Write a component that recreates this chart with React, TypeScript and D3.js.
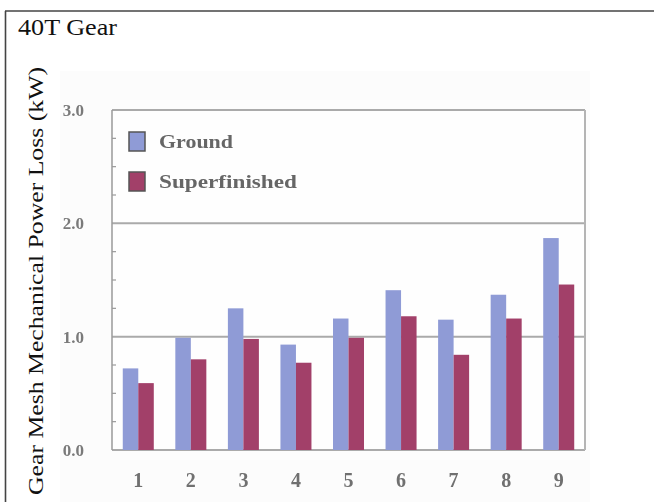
import React from "react";
import * as d3 from "d3";

// Mechanical power loss per test condition, ground vs superfinished gear teeth
const conditions = ["1", "2", "3", "4", "5", "6", "7", "8", "9"];
const seriesNames = ["Ground", "Superfinished"];
const groundLoss = [0.72, 0.99, 1.25, 0.93, 1.16, 1.41, 1.15, 1.37, 1.87];
const superfinishedLoss = [0.59, 0.8, 0.98, 0.77, 0.99, 1.18, 0.84, 1.16, 1.46];
const yTicks = [0, 1, 2, 3];
const yMinorTicks = [0.25, 0.5, 0.75, 1.25, 1.5, 1.75, 2.25, 2.5, 2.75];

const W = 654;
const H = 502;
const plot = { left: 112, right: 585, top: 110, bottom: 450 };
const colors = ["#8f9bd6", "#a23f69"];
const serif = "'Liberation Serif', 'Times New Roman', Times, serif";

export default function App() {
  const x = d3
    .scaleBand<string>()
    .domain(conditions)
    .range([plot.left, plot.right])
    .paddingInner(0.41)
    .paddingOuter(0.205);
  const xInner = d3
    .scaleBand<string>()
    .domain(seriesNames)
    .range([0, x.bandwidth()]);
  const y = d3.scaleLinear().domain([0, 3]).range([plot.bottom, plot.top]);
  const series = [groundLoss, superfinishedLoss];
  const fmt = d3.format(".1f");

  return (
    <svg
      width={W}
      height={H}
      style={{ position: "absolute", left: 0, top: 0, background: "#fff" }}
    >
      <defs>
        <filter id="soft" x="-5%" y="-5%" width="110%" height="110%">
          <feGaussianBlur stdDeviation="0.65" />
        </filter>
      </defs>

      {/* frame */}
      <line x1={5} y1={11} x2={W} y2={11} stroke="#444" strokeWidth={1.6} />
      <line x1={5.5} y1={11} x2={5.5} y2={H} stroke="#444" strokeWidth={1.6} />

      <text
        x={18}
        y={35}
        fontFamily={serif}
        fontSize={23}
        fill="#111"
        textLength={99}
        lengthAdjust="spacingAndGlyphs"
      >
        40T Gear
      </text>

      <text
        transform={`translate(43, 281) rotate(-90)`}
        textAnchor="middle"
        fontFamily={serif}
        fontSize={21}
        fill="#111"
        textLength={428}
        lengthAdjust="spacingAndGlyphs"
      >
        Gear Mesh Mechanical Power Loss (kW)
      </text>

      <g filter="url(#soft)">
        <rect x={60} y={71} width={530} height={H - 71} fill="#fcfcfc" />
        <rect
          x={plot.left}
          y={plot.top}
          width={plot.right - plot.left}
          height={plot.bottom - plot.top}
          fill="#fefefe"
        />

        {/* grid lines */}
        {yTicks.map((t) => (
          <line
            key={`g${t}`}
            x1={plot.left}
            x2={plot.right}
            y1={y(t)}
            y2={y(t)}
            stroke="#aaaaaa"
            strokeWidth={2}
          />
        ))}
        <line
          x1={plot.left}
          x2={plot.left}
          y1={plot.top}
          y2={plot.bottom}
          stroke="#9a9a9a"
          strokeWidth={1.5}
        />
        <line
          x1={plot.right}
          x2={plot.right}
          y1={plot.top}
          y2={plot.bottom}
          stroke="#b4b4b4"
          strokeWidth={2}
        />
        {yMinorTicks.map((t) => (
          <line
            key={`m${t}`}
            x1={plot.left}
            x2={plot.left + 4}
            y1={y(t)}
            y2={y(t)}
            stroke="#999"
            strokeWidth={1.2}
          />
        ))}

        {/* bars */}
        {conditions.map((c, i) => (
          <g key={c} transform={`translate(${x(c)},0)`}>
            {series.map((vals, s) => (
              <rect
                key={seriesNames[s]}
                x={xInner(seriesNames[s])}
                y={y(vals[i])}
                width={xInner.bandwidth()}
                height={y(0) - y(vals[i])}
                fill={colors[s]}
              />
            ))}
          </g>
        ))}

        {/* y tick labels */}
        {yTicks.map((t) => (
          <text
            key={`yl${t}`}
            x={84}
            y={y(t)}
            dy="0.35em"
            textAnchor="end"
            fontFamily={serif}
            fontWeight="bold"
            fontSize={17}
            fill="#7a7a7a"
          >
            {fmt(t)}
          </text>
        ))}

        {/* x tick labels */}
        {conditions.map((c) => (
          <text
            key={`xl${c}`}
            x={(x(c) as number) + x.bandwidth() / 2}
            y={487}
            textAnchor="middle"
            fontFamily={serif}
            fontWeight="bold"
            fontSize={20}
            fill="#707070"
          >
            {c}
          </text>
        ))}

        {/* legend */}
        {seriesNames.map((name, s) => (
          <g key={name} transform={`translate(129, ${132 + s * 40})`}>
            <rect
              x={0}
              y={0}
              width={16}
              height={19}
              fill={colors[s]}
              stroke="#555"
              strokeWidth={1.5}
            />
            <text
              x={30}
              y={15.5}
              fontFamily={serif}
              fontWeight="bold"
              fontSize={18}
              fill="#666"
              textLength={name === "Ground" ? 74 : 138}
              lengthAdjust="spacingAndGlyphs"
            >
              {name}
            </text>
          </g>
        ))}
      </g>
    </svg>
  );
}
